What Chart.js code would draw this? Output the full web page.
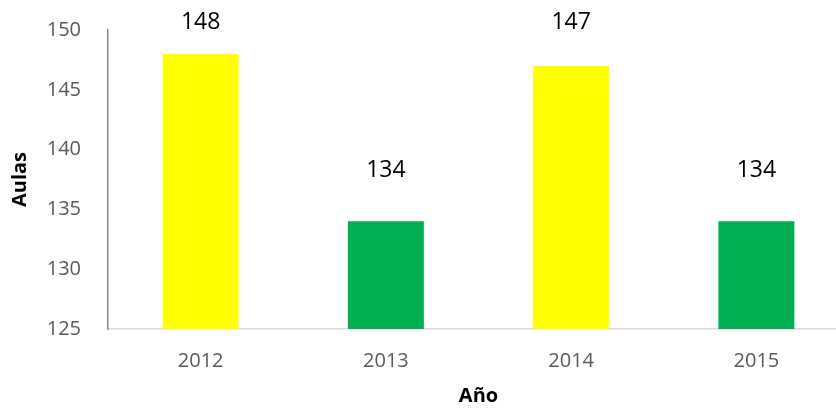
<!DOCTYPE html>
<html>
<head>
<meta charset="utf-8">
<script src="https://cdn.jsdelivr.net/npm/chart.js@4.4.0/dist/chart.umd.min.js"></script>
<style>
  html, body { margin: 0; padding: 0; background: #fff; overflow: hidden; }
  #wrap { width: 849px; height: 408px; position: relative; }
</style>
</head>
<body>
<div id="wrap"><canvas id="c"></canvas></div>
<script>
const years = ['2012', '2013', '2014', '2015'];
const aulas = [148, 134, 147, 134];
const barColors = ['#FFFF00', '#00B050', '#FFFF00', '#00B050'];
const yTicks = [125, 130, 135, 140, 145, 150];

const FONT = "'Open Sans', 'DejaVu Sans', sans-serif";

const labelPlugin = {
  id: 'barLabels',
  afterDatasetsDraw(chart) {
    const ctx = chart.ctx;
    const meta = chart.getDatasetMeta(0);
    ctx.save();
    ctx.font = '23px ' + FONT;
    ctx.fillStyle = '#000';
    ctx.textAlign = 'center';
    ctx.textBaseline = 'middle';
    meta.data.forEach((bar, i) => {
      const y = Math.max(22, bar.y - 51);
      ctx.fillText(String(chart.data.datasets[0].data[i]), bar.x, y);
    });
    ctx.restore();
  }
};

new Chart(document.getElementById('c'), {
  type: 'bar',
  data: {
    labels: years,
    datasets: [{
      data: aulas,
      backgroundColor: barColors,
      borderWidth: 0,
      barPercentage: 0.41,
      categoryPercentage: 1
    }]
  },
  options: {
    responsive: true,
    maintainAspectRatio: false,
    animation: false,
    layout: { padding: { top: 30, right: 0, left: 0, bottom: 0 } },
    plugins: { legend: { display: false }, tooltip: { enabled: false } },
    scales: {
      x: {
        grid: { display: false, drawTicks: false },
        border: { display: true, color: '#D9D9D9', width: 1.5 },
        ticks: { color: '#595959', font: { family: FONT, size: 20 }, padding: 20 },
        title: { display: true, text: 'Año', color: '#000', font: { family: FONT, size: 20, weight: 'bold' }, padding: 0 },
        afterFit(scale) { scale.height = 79; scale.paddingLeft = 0; scale.paddingRight = 0; }
      },
      y: {
        min: 125, max: 150,
        afterBuildTicks(scale) { scale.ticks = yTicks.map(v => ({ value: v })); },
        grid: { display: false, drawTicks: false },
        border: { display: true, color: '#898989', width: 1.5 },
        ticks: { color: '#595959', font: { family: FONT, size: 20 }, padding: 27 },
        title: { display: true, text: 'Aulas', color: '#000', font: { family: FONT, size: 20, weight: 'bold' }, padding: { top: 8, bottom: 0 } },
        afterFit(scale) { scale.width = 108; scale.paddingTop = 0; scale.paddingBottom = 0; }
      }
    }
  },
  plugins: [labelPlugin]
});
</script>
</body>
</html>
